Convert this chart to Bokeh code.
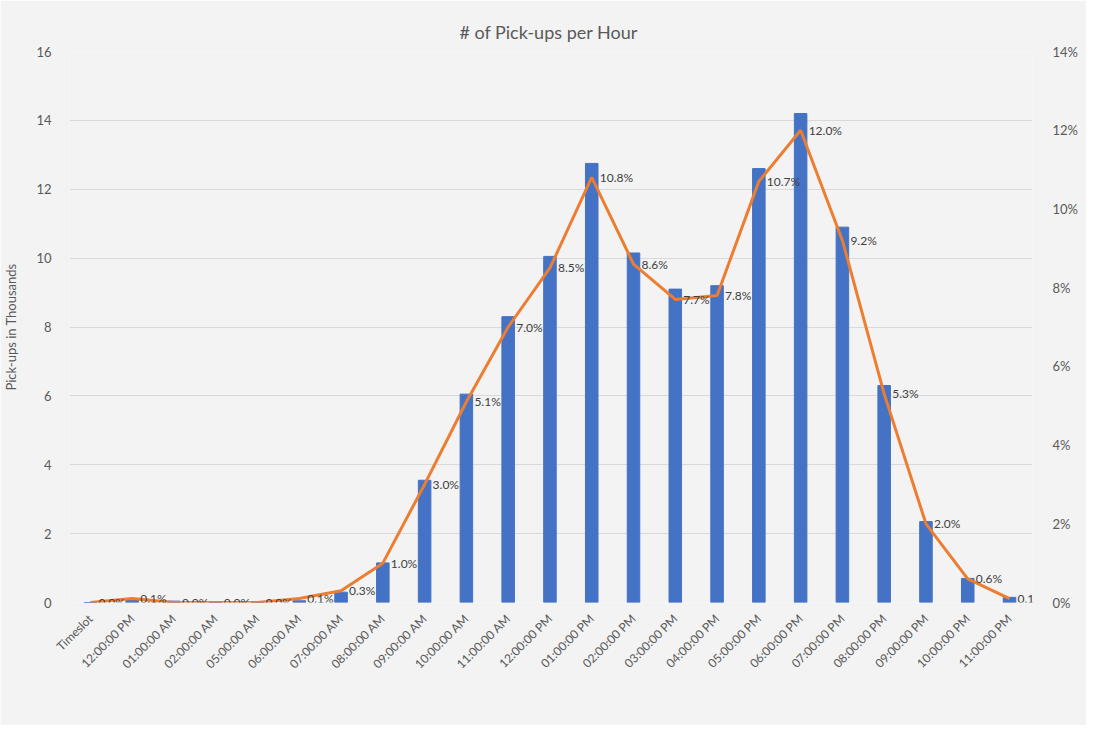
import math
from bokeh.plotting import figure
from bokeh.models import (ColumnDataSource, Range1d, LinearAxis, FixedTicker,
                          Legend, LegendItem, NumeralTickFormatter)
from bokeh.core.properties import value
from bokeh.embed import file_html
from bokeh.resources import INLINE

categories = ["Timeslot", "12:00:00 PM", "01:00:00 AM", "02:00:00 AM", "05:00:00 AM",
              "06:00:00 AM", "07:00:00 AM", "08:00:00 AM", "09:00:00 AM", "10:00:00 AM",
              "11:00:00 AM", "12:00:00 PM", "01:00:00 PM", "02:00:00 PM", "03:00:00 PM",
              "04:00:00 PM", "05:00:00 PM", "06:00:00 PM", "07:00:00 PM", "08:00:00 PM",
              "09:00:00 PM", "10:00:00 PM", "11:00:00 PM"]
pickups = [0.0, 0.08, 0.04, 0.02, 0.02, 0.05, 0.3, 1.15, 3.55, 6.05, 8.3, 10.05, 12.75,
           10.15, 9.1, 9.2, 12.6, 14.2, 10.9, 6.3, 2.35, 0.7, 0.15]
pct = [0.0, 0.1, 0.0, 0.0, 0.0, 0.1, 0.3, 1.0, 3.0, 5.1, 7.0, 8.5, 10.8, 8.6, 7.7, 7.8,
       10.7, 12.0, 9.2, 5.3, 2.0, 0.6, 0.1]

FONT = "Lato"
GRAY = "#595959"
BG = "#f3f3f3"

x = list(range(len(categories)))
src = ColumnDataSource(dict(x=x, pickups=pickups, pct=[v / 100 for v in pct],
                            lbl=["%.1f%%" % v for v in pct]))

p = figure(width=1086, height=725, output_backend="svg", toolbar_location=None,
           x_range=Range1d(-0.5, 22.55), y_range=Range1d(0, 16),
           min_border_left=69, min_border_right=54, min_border_top=51, min_border_bottom=123)
p.background_fill_color = BG
p.border_fill_color = BG
p.outline_line_color = None

p.title.text = "# of Pick-ups  per Hour"
p.title.align = "center"
p.title.text_font = FONT
p.title.text_font_size = "18px"
p.title.text_font_style = "normal"
p.title.text_color = GRAY
p.title.standoff = 18

p.extra_y_ranges = {"pct": Range1d(0, 0.14)}

bars = p.vbar(x="x", top="pickups", width=0.3, source=src, color="#4472C4")
line = p.line(x="x", y="pct", source=src, y_range_name="pct", line_color="#ED7D31",
              line_width=3)
p.text(x="x", y="pct", text="lbl", source=src, y_range_name="pct", x_offset=8,
       text_baseline="middle", text_align="left", text_font=value(FONT),
       text_font_size="12px", text_color="#404040")

# left axis
ax = p.yaxis[0]
ax.ticker = FixedTicker(ticks=list(range(0, 17, 2)))
ax.axis_label = "Pick-ups in Thousands"
ax.axis_label_text_font = FONT
ax.axis_label_text_font_size = "13px"
ax.axis_label_text_font_style = "normal"
ax.axis_label_text_color = GRAY
ax.axis_label_standoff = 14
ax.axis_line_color = None
ax.major_tick_line_color = None
ax.minor_tick_line_color = None
ax.major_label_text_font = FONT
ax.major_label_text_font_size = "13px"
ax.major_label_text_color = GRAY
ax.major_label_standoff = 12

# right axis
rax = LinearAxis(y_range_name="pct", ticker=FixedTicker(ticks=[i / 100 for i in range(0, 15, 2)]),
                 formatter=NumeralTickFormatter(format="0%"))
rax.axis_line_color = None
rax.major_tick_line_color = None
rax.minor_tick_line_color = None
rax.major_label_text_font = FONT
rax.major_label_text_font_size = "13px"
rax.major_label_text_color = GRAY
rax.major_label_standoff = 14
p.add_layout(rax, "right")

# x axis
xa = p.xaxis[0]
xa.ticker = FixedTicker(ticks=x)
xa.major_label_overrides = {i: c for i, c in enumerate(categories)}
xa.major_label_orientation = math.pi / 4
xa.axis_line_color = None
xa.major_tick_line_color = None
xa.minor_tick_line_color = None
xa.major_label_text_font = FONT
xa.major_label_text_font_size = "12px"
xa.major_label_text_color = GRAY
xa.major_label_standoff = 8

p.xgrid.grid_line_color = None
p.ygrid.ticker = FixedTicker(ticks=list(range(0, 17, 2)))
p.ygrid.grid_line_color = "#d9d9d9"
p.ygrid.grid_line_width = 1

legend = Legend(items=[LegendItem(label="Pick-ups", renderers=[bars]),
                       LegendItem(label="%", renderers=[line])],
                orientation="horizontal", location=(391, -124))
legend.background_fill_alpha = 0
legend.border_line_color = None
legend.label_text_font = FONT
legend.label_text_font_size = "12px"
legend.label_text_color = GRAY
legend.glyph_width = 34
legend.glyph_height = 8
legend.spacing = 14
legend.margin = 0
legend.padding = 2
legend.label_standoff = 8
p.add_layout(legend, "center")

open("out.html", "w").write(file_html(p, INLINE))
